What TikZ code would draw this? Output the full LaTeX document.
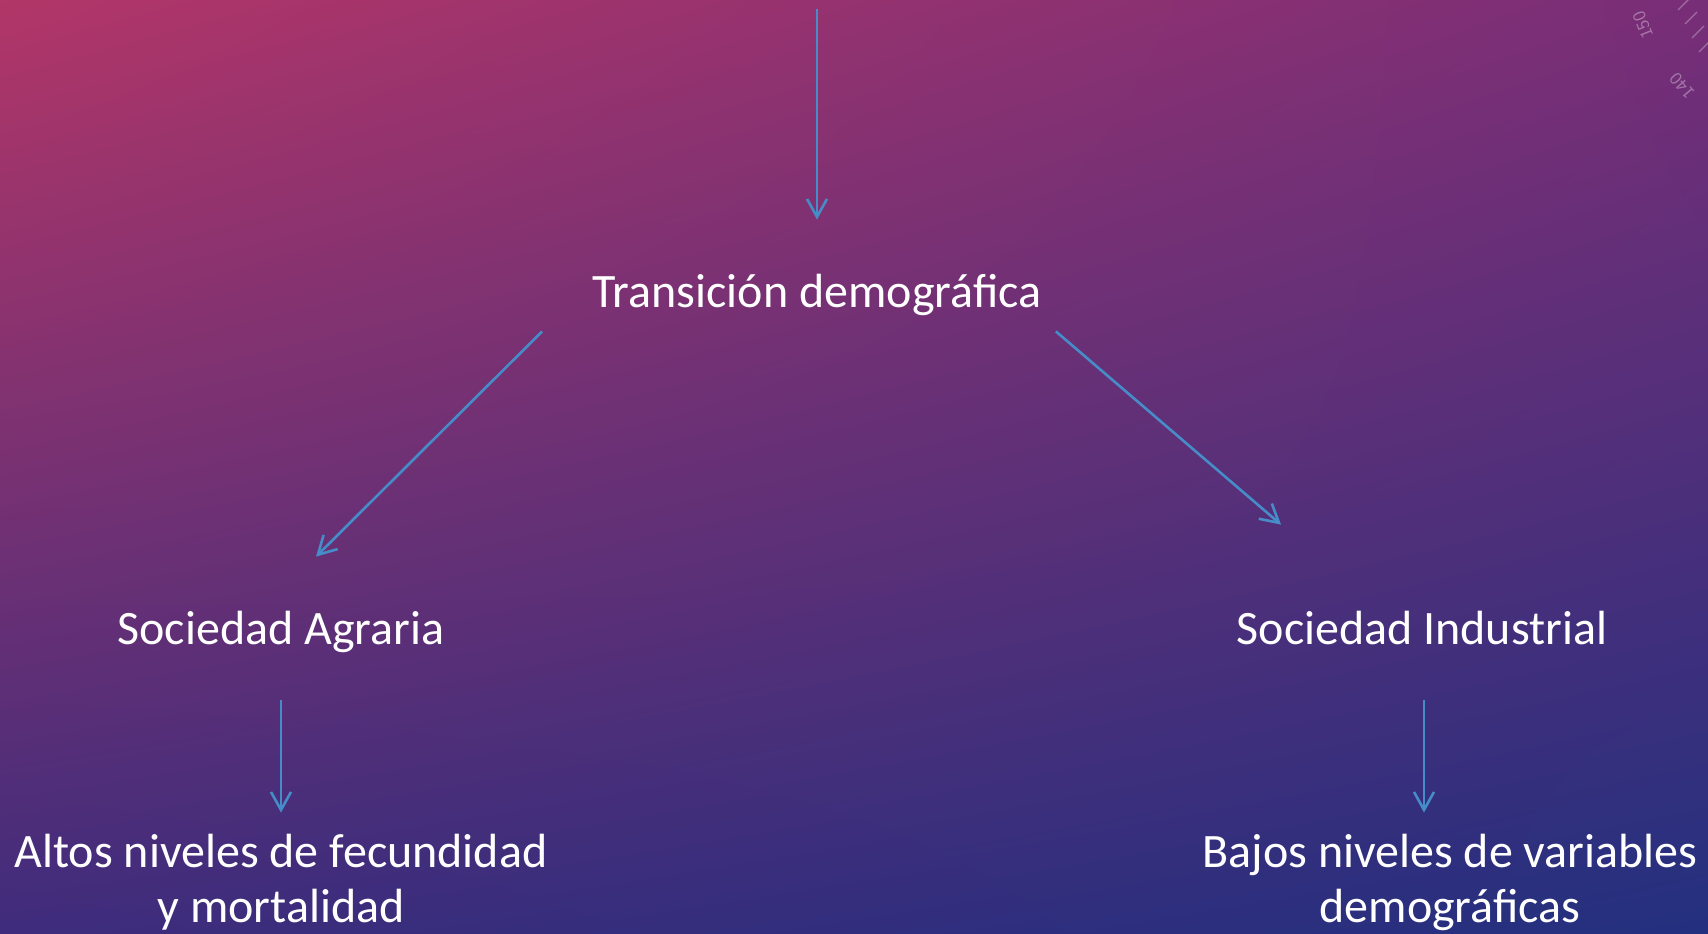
\documentclass[tikz,border=0pt]{standalone}
\usepackage{fontspec}
\setmainfont{Carlito}
\usetikzlibrary{arrows.meta,calc,shadings}

\definecolor{arrowblue}{RGB}{70,140,200}
\definecolor{bgtl}{RGB}{178,54,104}
\definecolor{bgtr}{RGB}{120,46,119}
\definecolor{bgbl}{RGB}{63,44,124}
\definecolor{bgbr}{RGB}{35,48,127}

\begin{document}
\begin{tikzpicture}[x=0.5pt,y=-0.5pt,
    txt/.style={text=white,font=\fontsize{24}{27.5}\selectfont,inner sep=0pt,
        text height=16pt,text depth=5pt,align=center,anchor=base},
    dial/.style={text=white,opacity=.35,font=\fontsize{9}{9}\selectfont\sffamily,inner sep=0pt},
    arr/.style={arrowblue,line width=1.3pt,-{Straight Barb[length=9pt,width=10pt]}}]
        \useasboundingbox (0,0) rectangle (1708,933);
        \shade[upper left=bgtl,upper right=bgtr,lower left=bgbl,lower right=bgbr]
            (0,0) rectangle (1708,933);

        % dial in the corner
        \node[dial,rotate=112] (d150) at (1643,25) {150};
        \node[dial,rotate=131] (d140) at (1682,86) {140};
        \foreach \i in {0,...,3}
            \draw[white,opacity=.3,line width=.6pt] (1678+7*\i,10+14*\i) -- ++(12,-12);

        \node[txt] (trans) at (817,307) {Transición demográfica};
        \node[txt] (agr) at (281,644) {Sociedad Agraria};
        \node[txt] (ind) at (1422,644) {Sociedad Industrial};
        \node[txt] (altos) at (281,922) {Altos niveles de fecundidad\\y mortalidad};
        \node[txt] (bajos) at (1450,922) {Bajos niveles de variables\\demográficas};

        \coordinate (topin) at (817,9);
        \draw[arr] (topin) -- ($(trans.north)+(0,-55)$);
        \draw[arr] ($(trans.south west)+(-50,14)$) -- ($(agr.north)+(35,-55)$);
        \draw[arr] ($(trans.south east)+(14,14)$) -- ($(ind.north)+(-141,-87)$);
        \draw[arr] ($(agr.south)+(0,46)$) -- ($(altos.north)+(0,-77)$);
        \draw[arr] ($(ind.south)+(2,46)$) -- ($(bajos.north)+(-26,-77)$);
    \end{tikzpicture}
\end{document}
